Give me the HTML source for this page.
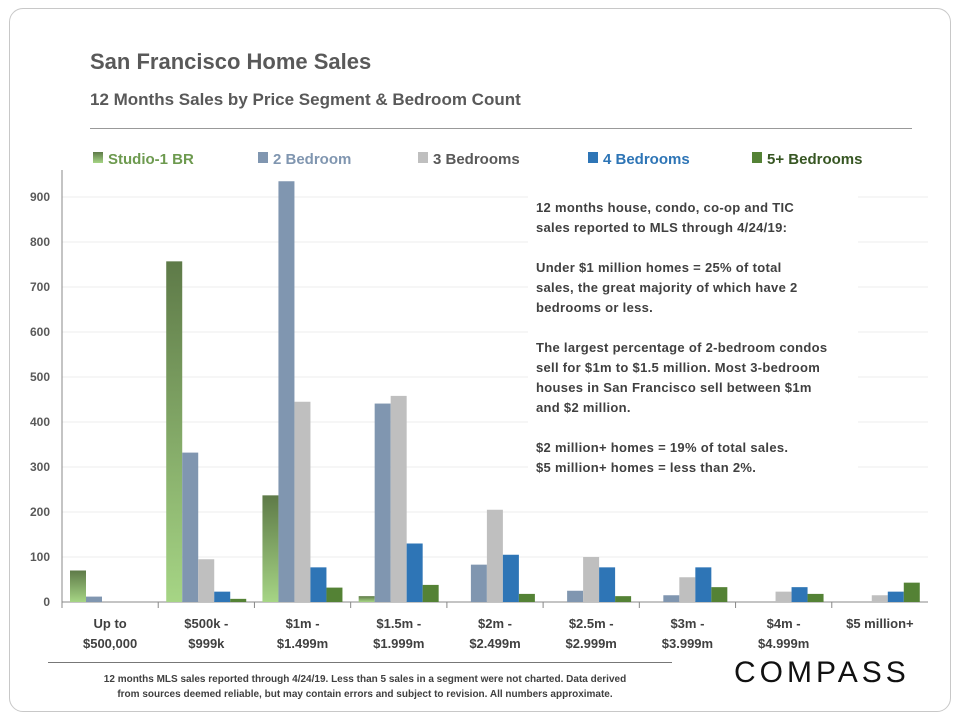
<!DOCTYPE html>
<html><head><meta charset="utf-8"><style>
body{margin:0;background:#fff;width:960px;height:720px;overflow:hidden;font-family:"Liberation Sans",sans-serif}
.card{position:absolute;left:9px;top:8px;width:940px;height:702px;border:1px solid #c8c8c8;border-radius:14px}
.t{position:absolute;color:#595959;font-weight:bold}
</style></head><body>
<div class="card"></div>
<div class="t" style="left:90px;top:49px;font-size:22px">San Francisco Home Sales</div>
<div class="t" style="left:90px;top:90px;font-size:17px">12 Months Sales by Price Segment &amp; Bedroom Count</div>
<div style="position:absolute;left:90px;top:128px;width:822px;height:1px;background:#999"></div>
<svg id="chart" width="960" height="720" style="position:absolute;left:0;top:0">
<defs>
<linearGradient id="gs" x1="0" y1="0" x2="0" y2="1"><stop offset="0" stop-color="#5e7a48"/><stop offset="1" stop-color="#a6d585"/></linearGradient>
</defs>
</svg>
<div style="position:absolute;left:528px;top:190px;width:330px;height:300px;background:#fff"></div>
<div style="position:absolute;left:536px;top:198px;width:330px;font-size:13px;font-weight:bold;color:#404040;line-height:20px;letter-spacing:0.3px;white-space:nowrap">12 months house, condo, co-op and TIC<br>sales reported to MLS through 4/24/19:<br><br>Under $1 million homes = 25% of total<br>sales, the great majority of which have 2<br>bedrooms or less.<br><br>The largest percentage of 2-bedroom condos<br>sell for $1m to $1.5 million. Most 3-bedroom<br>houses in San Francisco sell between $1m<br>and $2 million.<br><br>$2 million+ homes = 19% of total sales.<br>$5 million+ homes = less than 2%.</div>
<div style="position:absolute;left:48px;top:662px;width:624px;height:1px;background:#777"></div>
<div style="position:absolute;left:50px;top:672px;width:630px;font-size:10px;font-weight:bold;color:#404040;line-height:15px;text-align:center">12 months MLS sales reported through 4/24/19. Less than 5 sales in a segment were not charted. Data derived<br>from sources deemed reliable, but may contain errors and subject to revision. All numbers approximate.</div>
<div style="position:absolute;left:734px;top:656px;font-size:30px;letter-spacing:4px;color:#111">COMPASS</div>
<script>
const categories=[["Up to","$500,000"],["$500k -","$999k"],["$1m -","$1.499m"],["$1.5m -","$1.999m"],["$2m -","$2.499m"],["$2.5m -","$2.999m"],["$3m -","$3.999m"],["$4m -","$4.999m"],["$5 million+",""]];
const seriesNames=["Studio-1 BR","2 Bedroom","3 Bedrooms","4 Bedrooms","5+ Bedrooms"];
const studio=[70,757,237,13,0,0,0,0,0];
const bed2=[12,332,935,441,83,25,15,0,0];
const bed3=[0,95,445,458,205,100,55,23,15];
const bed4=[0,23,77,130,105,77,77,33,23];
const bed5=[0,7,32,38,18,13,33,18,43];
const yTicks=[0,100,200,300,400,500,600,700,800,900];
const series=[studio,bed2,bed3,bed4,bed5];
const colors=["url(#gs)","#8096b0","#bfbfbf","#2e75b6","#548235"];
const legColors=["#6d9a4f","#8096b0","#bfbfbf","#2e75b6","#548235"];
const textColors=["#6d9a4f","#8096b0","#595959","#2e75b6","#375623"];
const svg=document.getElementById('chart');const NS="http://www.w3.org/2000/svg";
const x0=62,x1=928,y0=602,ppu=0.45;
const gw=(x1-x0)/categories.length,bw=16;
const y=v=>y0-v*ppu;
function mk(t,a){const e=document.createElementNS(NS,t);for(const k in a)e.setAttribute(k,a[k]);svg.appendChild(e);return e;}
yTicks.forEach(t=>{
 if(t>0){const g=mk('line',{x1:x0,x2:x1,y1:y(t),y2:y(t),stroke:'#ececec'});
 
 }
 const l=mk('text',{x:x0-12,y:y(t)+4,'text-anchor':'end','font-size':12,'font-weight':'bold',fill:'#595959'});l.textContent=t;
 
 
});
const ax=mk('line',{x1:x0,x2:x0,y1:170,y2:y0,stroke:'#888'});


const xa=mk('line',{x1:x0,x2:x1,y1:y0,y2:y0,stroke:'#888'});


categories.forEach((c,i)=>{
 const gx=x0+i*gw;
 const tk=mk('line',{x1:gx,x2:gx,y1:y0,y2:y0+6,stroke:'#888'});
 
 
 series.forEach((s,j)=>{if(s[i]<=0)return;
  const r=mk('rect',{x:gx+8+j*bw,y:y(s[i]),width:bw,height:s[i]*ppu,fill:colors[j]});
  
  });
 c.forEach((ln,k)=>{const t=mk('text',{x:gx+gw/2,y:628+k*20,'text-anchor':'middle','font-size':13,'font-weight':'bold',fill:'#404040'});t.textContent=ln;
  
  });
});
const legX=[93,258,418,588,752];
seriesNames.forEach((n,j)=>{
 const r=mk('rect',{x:legX[j],y:152,width:10,height:11,fill:j==0?'url(#gs)':legColors[j]});
 
 
 const t=mk('text',{x:legX[j]+15,y:164,'font-size':15,'font-weight':'bold',fill:textColors[j]});t.textContent=n;
 
 
});
</script>
</body></html>
